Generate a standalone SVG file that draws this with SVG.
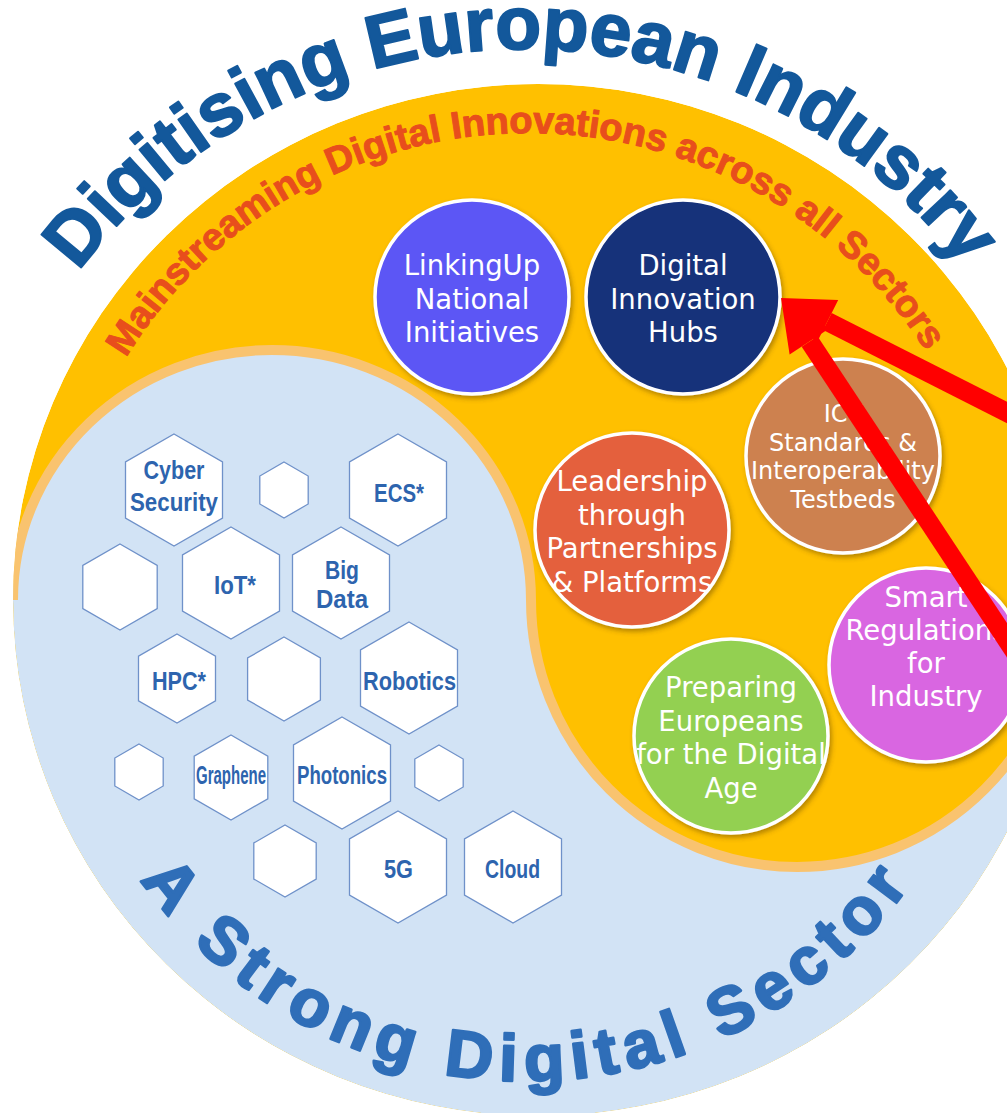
<svg xmlns="http://www.w3.org/2000/svg" xmlns:xlink="http://www.w3.org/1999/xlink" width="1007" height="1113" viewBox="0 0 1007 1113">
<style>
.bt{font-family:"DejaVu Sans",Verdana,sans-serif;fill:#ffffff;text-anchor:middle;font-size:27.5px}
.bts{font-size:24px}
.bub{stroke:#ffffff;stroke-width:3.5;filter:url(#sh)}
.hex{fill:#ffffff;stroke:#6f91c9;stroke-width:1.3}
.hl{font-family:"Liberation Sans",Arial,sans-serif;font-weight:bold;fill:#2d64ae;text-anchor:middle;font-size:25px}
.arc{font-family:"Liberation Sans",Arial,sans-serif;font-weight:bold;stroke-linejoin:round}
.t1{font-size:75px;fill:#13589b;stroke:#13589b;stroke-width:2}
.t2{font-size:38px;fill:#e84e1c;stroke:#e84e1c;stroke-width:1}
.t3{font-size:66px;fill:#2f6eb8;stroke:#2f6eb8;stroke-width:2.5;letter-spacing:8px}
.ar{stroke:#ff0000;stroke-width:19;fill:none}
.ah{fill:#ff0000}
</style>
<defs>
<filter id="sh" x="-20%" y="-20%" width="150%" height="150%">
<feDropShadow dx="2" dy="3" stdDeviation="2.5" flood-color="#5a3a00" flood-opacity="0.45"/>
</filter>
<clipPath id="big"><ellipse cx="538" cy="600" rx="525" ry="516"/></clipPath>
<path id="pTitle" d="M78.6,271.6 A555,555 0 0 1 1069.6,507.6"/>
<path id="pSub" d="M126,357.7 A472,472 0 0 1 983.9,482.8"/>
<path id="pBot" d="M140.3,879.7 A472,472 0 0 0 954.8,808.5"/>
</defs>
<rect width="1007" height="1113" fill="#ffffff"/>
<g id="background" clip-path="url(#big)">
<ellipse cx="538" cy="600" rx="525" ry="516" fill="#ffc000"/>
<path d="M13,600 A259,250 0 0 1 531,600 A266,267 0 0 0 1063,600 A525,516 0 0 1 13,600 Z" fill="#d2e3f5"/>
<path d="M13,600 A259,250 0 0 1 531,600 A266,267 0 0 0 1063,600" fill="none" stroke="#f9c36f" stroke-width="10"/>
</g>
<g id="title">
<text class="arc t1"><textPath href="#pTitle" xlink:href="#pTitle" startOffset="0">Digitising</textPath></text>
<text class="arc t1"><textPath href="#pTitle" xlink:href="#pTitle" startOffset="362.6">European</textPath></text>
<text class="arc t1"><textPath href="#pTitle" xlink:href="#pTitle" startOffset="729.3">Industry</textPath></text>
</g>
<g id="subtitle">
<text class="arc t2"><textPath href="#pSub" xlink:href="#pSub" startOffset="0">Mainstreaming</textPath></text>
<text class="arc t2"><textPath href="#pSub" xlink:href="#pSub" startOffset="278.7">Digital</textPath></text>
<text class="arc t2"><textPath href="#pSub" xlink:href="#pSub" startOffset="405.4">Innovations</textPath></text>
<text class="arc t2"><textPath href="#pSub" xlink:href="#pSub" startOffset="629.2">across</textPath></text>
<text class="arc t2"><textPath href="#pSub" xlink:href="#pSub" startOffset="762.3">all</textPath></text>
<text class="arc t2"><textPath href="#pSub" xlink:href="#pSub" startOffset="815.1">Sectors</textPath></text>
</g>
<g id="sector-title">
<text class="arc t3"><textPath href="#pBot" xlink:href="#pBot" startOffset="0">A</textPath></text>
<text class="arc t3"><textPath href="#pBot" xlink:href="#pBot" startOffset="82">Strong</textPath></text>
<text class="arc t3"><textPath href="#pBot" xlink:href="#pBot" startOffset="369">Digital</textPath></text>
<text class="arc t3"><textPath href="#pBot" xlink:href="#pBot" startOffset="653">Sector</textPath></text>
</g>
<g id="hexagons">
<g id="hex-cyber"><polygon class="hex" points="174,434 222.5,462 222.5,518 174,546 125.5,518 125.5,462"/><text class="hl"><tspan x="174" y="479" textLength="61" lengthAdjust="spacingAndGlyphs">Cyber</tspan><tspan x="174" y="511" textLength="88" lengthAdjust="spacingAndGlyphs">Security</tspan></text></g>
<g id="hex-e1"><polygon class="hex" points="284,462 308.2,476 308.2,504 284,518 259.8,504 259.8,476"/></g>
<g id="hex-ecs"><polygon class="hex" points="398,434 446.5,462 446.5,518 398,546 349.5,518 349.5,462"/><text class="hl" x="399" y="502" textLength="50" lengthAdjust="spacingAndGlyphs">ECS*</text></g>
<g id="hex-e2"><polygon class="hex" points="120,544 157.2,565.5 157.2,608.5 120,630 82.8,608.5 82.8,565.5"/></g>
<g id="hex-iot"><polygon class="hex" points="231,527 279.5,555 279.5,611 231,639 182.5,611 182.5,555"/><text class="hl" x="235" y="594" textLength="42" lengthAdjust="spacingAndGlyphs">IoT*</text></g>
<g id="hex-bigdata"><polygon class="hex" points="341,527 389.5,555 389.5,611 341,639 292.5,611 292.5,555"/><text class="hl"><tspan x="342" y="579" textLength="34" lengthAdjust="spacingAndGlyphs">Big</tspan><tspan x="342" y="608" textLength="52" lengthAdjust="spacingAndGlyphs">Data</tspan></text></g>
<g id="hex-hpc"><polygon class="hex" points="177,634 215.5,656.2 215.5,700.8 177,723 138.5,700.8 138.5,656.2"/><text class="hl" x="179" y="690" textLength="54" lengthAdjust="spacingAndGlyphs">HPC*</text></g>
<g id="hex-e3"><polygon class="hex" points="284,637 320.4,658 320.4,700 284,721 247.6,700 247.6,658"/></g>
<g id="hex-robotics"><polygon class="hex" points="409,622 457.5,650 457.5,706 409,734 360.5,706 360.5,650"/><text class="hl" x="409.5" y="690" textLength="93" lengthAdjust="spacingAndGlyphs">Robotics</text></g>
<g id="hex-e4"><polygon class="hex" points="139,744 163.2,758 163.2,786 139,800 114.8,786 114.8,758"/></g>
<g id="hex-graphene"><polygon class="hex" points="231,735 267.8,756.2 267.8,798.8 231,820 194.2,798.8 194.2,756.2"/><text class="hl" x="231" y="784" font-size="17.5" textLength="70" lengthAdjust="spacingAndGlyphs">Graphene</text></g>
<g id="hex-photonics"><polygon class="hex" points="342,717 390.5,745 390.5,801 342,829 293.5,801 293.5,745"/><text class="hl" x="342" y="784" textLength="90" lengthAdjust="spacingAndGlyphs">Photonics</text></g>
<g id="hex-e5"><polygon class="hex" points="439,745 463.2,759 463.2,787 439,801 414.8,787 414.8,759"/></g>
<g id="hex-e6"><polygon class="hex" points="285,825 316.2,843 316.2,879 285,897 253.8,879 253.8,843"/></g>
<g id="hex-5g"><polygon class="hex" points="398,811 446.5,839 446.5,895 398,923 349.5,895 349.5,839"/><text class="hl" x="398.5" y="878" textLength="29" lengthAdjust="spacingAndGlyphs">5G</text></g>
<g id="hex-cloud"><polygon class="hex" points="513,811 561.5,839 561.5,895 513,923 464.5,895 464.5,839"/><text class="hl" x="512.5" y="878" textLength="55" lengthAdjust="spacingAndGlyphs">Cloud</text></g>
</g>
<g id="n-linkingup"><circle class="bub" cx="472" cy="297" r="97" fill="#5b56f5"/><text class="bt" font-size="28"><tspan x="472" y="275">LinkingUp</tspan><tspan x="472" y="308.5">National</tspan><tspan x="472" y="341.5">Initiatives</tspan></text></g>
<g id="n-dih"><circle class="bub" cx="683" cy="297" r="97" fill="#15307a"/><text class="bt" font-size="28"><tspan x="683" y="275">Digital</tspan><tspan x="683" y="308.5">Innovation</tspan><tspan x="683" y="341.5">Hubs</tspan></text></g>
<g id="n-ict"><circle class="bub" cx="843" cy="456" r="97" fill="#cd8150"/><text class="bt bts"><tspan x="843" y="422">ICT</tspan><tspan x="843" y="450.5">Standards &amp;</tspan><tspan x="843" y="479">Interoperability</tspan><tspan x="843" y="508">Testbeds</tspan></text></g>
<g id="n-leadership"><circle class="bub" cx="632" cy="530" r="97" fill="#e4603c"/><text class="bt"><tspan x="632" y="491">Leadership</tspan><tspan x="632" y="524.5">through</tspan><tspan x="632" y="558">Partnerships</tspan><tspan x="632" y="591.5">&amp; Platforms</tspan></text></g>
<g id="n-smart"><circle class="bub" cx="926" cy="665" r="97" fill="#d966e1"/><text class="bt" font-size="28"><tspan x="926" y="607">Smart</tspan><tspan x="926" y="640">Regulations</tspan><tspan x="926" y="673">for</tspan><tspan x="926" y="706">Industry</tspan></text></g>
<g id="n-preparing"><circle class="bub" cx="731" cy="736" r="97" fill="#93d051"/><text class="bt"><tspan x="731" y="697">Preparing</tspan><tspan x="731" y="730.5">Europeans</tspan><tspan x="731" y="764">for the Digital</tspan><tspan x="731" y="797.5">Age</tspan></text></g>
<g id="connectors">
<g id="arrow-1"><line class="ar" x1="1080" y1="449.5" x2="827.4" y2="321.5"/><polygon class="ah" points="781,298 838.2,300.1 816.6,342.9"/></g>
<g id="arrow-2"><line class="ar" x1="1086" y1="760" x2="809.6" y2="341.4"/><polygon class="ah" points="781,298 829.6,328.2 789.6,354.6"/></g>
</g>
</svg>
